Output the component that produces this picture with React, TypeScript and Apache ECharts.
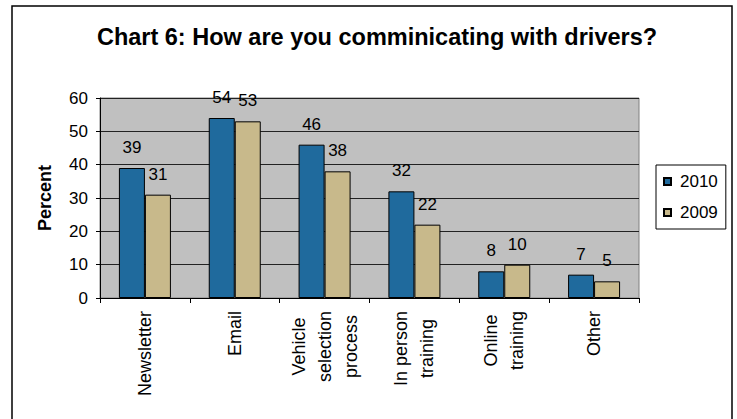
import React, { useEffect, useRef } from "react";
import * as echarts from "echarts";

const categories = [
  "Newsletter",
  "Email",
  "Vehicle\nselection\nprocess",
  "In person\ntraining",
  "Online\ntraining",
  "Other",
];
const series2010 = [39, 54, 46, 32, 8, 7];
const series2009 = [31, 53, 38, 22, 10, 5];
const seriesNames = ["2010", "2009"];
const yTicks = { min: 0, max: 60, interval: 10 };
const titleText = "Chart 6: How are you comminicating with drivers?";
const yAxisName = "Percent";

const FONT = "'Liberation Sans', Arial, sans-serif";
const CAT_FONT_SIZE = 18;

function measure(text: string, size: number): number {
  const c = document.createElement("canvas");
  const ctx = c.getContext("2d");
  if (!ctx) return text.length * size * 0.5;
  ctx.font = `${size}px 'Liberation Sans', Arial, sans-serif`;
  return ctx.measureText(text).width;
}

export default function App() {
  const ref = useRef<HTMLDivElement>(null);
  useEffect(() => {
    if (!ref.current) return;
    const chart = echarts.init(ref.current, undefined, { renderer: "svg" });

    const rich: Record<string, any> = {};
    categories.forEach((c, i) => {
      const w = Math.max(...c.split("\n").map((l) => measure(l, CAT_FONT_SIZE)));
      rich["c" + i] = {
        width: Math.ceil(w) + 1,
        align: "center",
        fontSize: CAT_FONT_SIZE,
        lineHeight: 26,
        fontFamily: FONT,
        color: "#000",
      };
    });

    const option: any = {
      animation: false,
      backgroundColor: "#fff",
      textStyle: { fontFamily: FONT },
      title: {
        text: titleText,
        left: 372,
        textAlign: "center",
        top: 20,
        textStyle: {
          fontFamily: FONT,
          fontWeight: "bold",
          fontSize: 23.5,
          color: "#000",
        },
      },
      graphic: [
        {
          type: "rect",
          shape: { x: 12, y: 6, width: 720, height: 430 },
          style: { fill: "none", stroke: "#000", lineWidth: 1.5 },
          silent: true,
        },
      ],
      legend: {
        orient: "vertical",
        left: 656,
        top: 165,
        data: seriesNames,
        icon: "rect",
        itemWidth: 7,
        itemHeight: 7,
        itemGap: 14,
        padding: [8, 8, 8, 7],
        borderColor: "#000",
        borderWidth: 1,
        backgroundColor: "#fff",
        textStyle: {
          fontFamily: FONT,
          fontSize: 17,
          lineHeight: 17,
          color: "#000",
          padding: [0, 0, 0, 4],
        },
      },
      grid: {
        left: 100,
        top: 98,
        right: 98,
        bottom: 121,
        show: true,
        backgroundColor: "#c0c0c0",
        borderColor: "#808080",
        borderWidth: 1,
      },
      xAxis: {
        type: "category",
        data: categories,
        axisLine: { show: true, lineStyle: { color: "#000", width: 1 } },
        axisTick: { show: true, length: 5, lineStyle: { color: "#000" } },
        axisLabel: {
          rotate: 90,
          interval: 0,
          margin: 12,
          formatter: (v: string) => {
            const i = categories.indexOf(v);
            return v
              .split("\n")
              .map((l) => `{c${i}|${l}}`)
              .join("\n");
          },
          rich,
        },
      },
      yAxis: {
        type: "value",
        min: yTicks.min,
        max: yTicks.max,
        interval: yTicks.interval,
        name: yAxisName,
        nameLocation: "middle",
        nameGap: 46,
        nameRotate: 90,
        nameTextStyle: {
          fontFamily: FONT,
          fontWeight: "bold",
          fontSize: 18,
          color: "#000",
        },
        axisLine: { show: true, lineStyle: { color: "#000", width: 1 } },
        axisTick: { show: true, length: 4, lineStyle: { color: "#000" } },
        axisLabel: {
          fontFamily: FONT,
          fontSize: 17,
          color: "#000",
          margin: 12,
        },
        splitLine: { show: true, lineStyle: { color: "#222", width: 1 } },
      },
      series: [
        {
          name: seriesNames[0],
          type: "bar",
          data: series2010,
          barWidth: 26,
          barGap: "0%",
          itemStyle: { color: "#1f6a9d", borderColor: "#000", borderWidth: 1 },
          label: {
            show: true,
            position: "top",
            distance: 12,
            fontFamily: FONT,
            fontSize: 17,
            color: "#000",
          },
        },
        {
          name: seriesNames[1],
          type: "bar",
          data: series2009,
          barWidth: 26,
          barGap: "0%",
          itemStyle: { color: "#c8b98b", borderColor: "#000", borderWidth: 1 },
          label: {
            show: true,
            position: "top",
            distance: 12,
            fontFamily: FONT,
            fontSize: 17,
            color: "#000",
          },
        },
      ],
    };
    chart.setOption(option);
    return () => chart.dispose();
  }, []);
  return (
    <div
      ref={ref}
      style={{ position: "absolute", left: 0, top: 0, width: 737, height: 419 }}
    />
  );
}
